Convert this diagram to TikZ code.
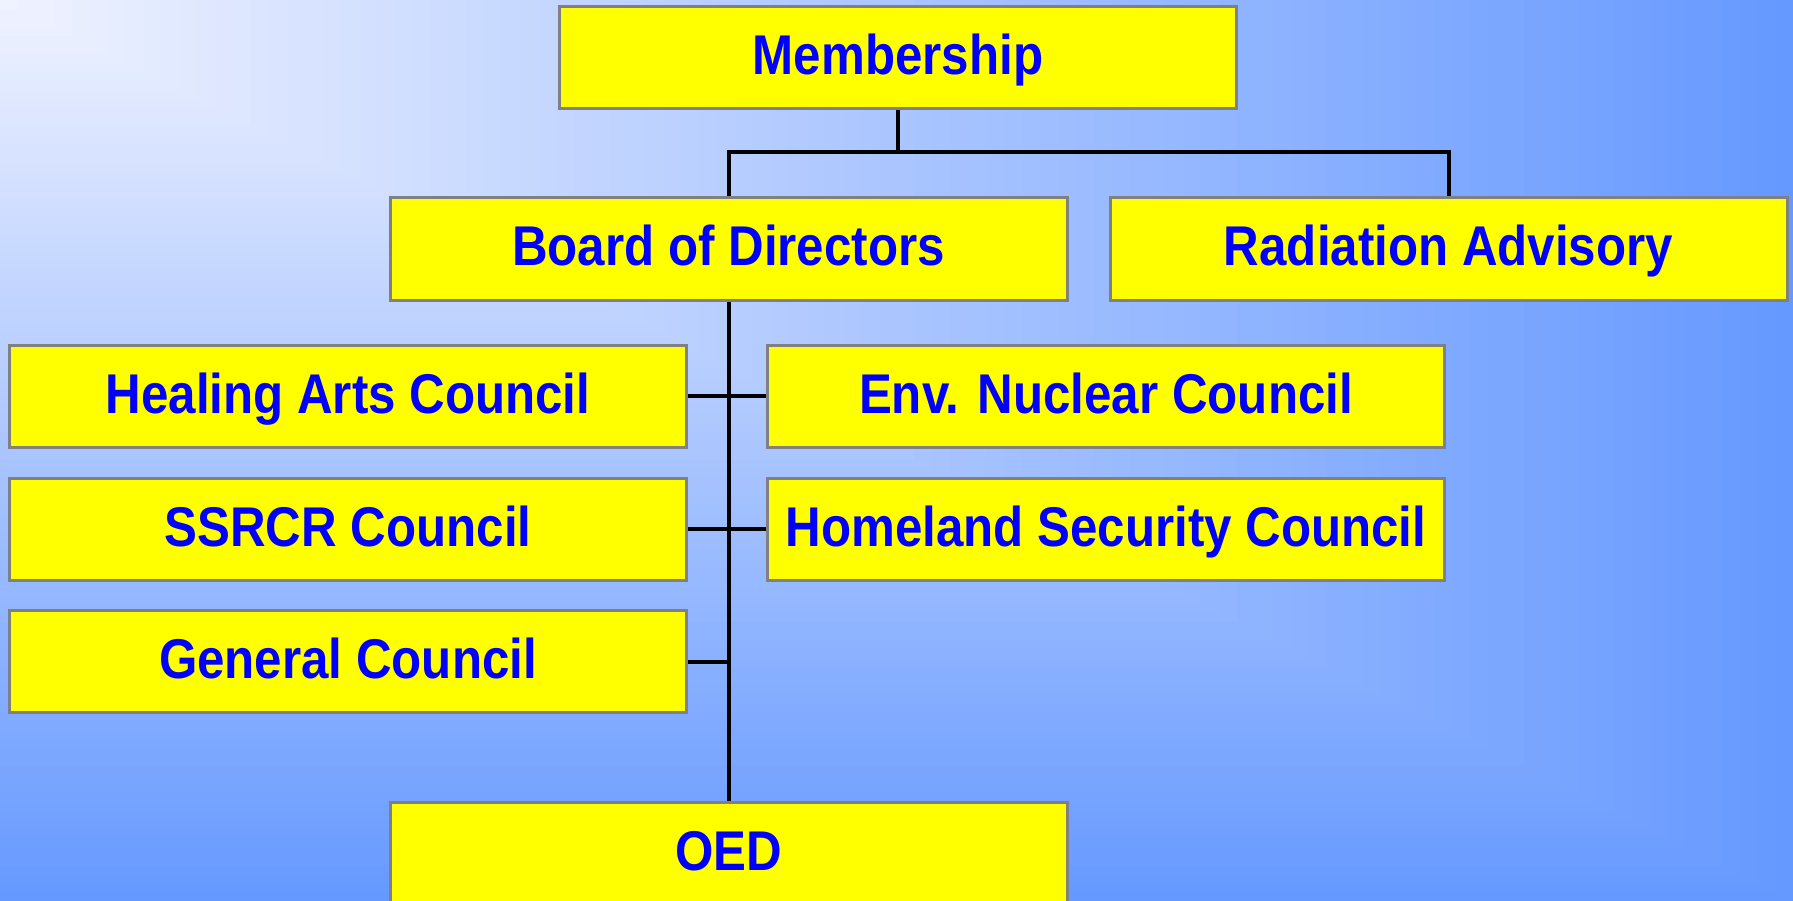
\documentclass[tikz,border=0pt]{standalone}
\usepackage{fontspec}
\newfontfamily\labfont{Liberation Sans}[FakeStretch=0.88]
\definecolor{bglight}{RGB}{240,243,255}
\definecolor{bgdark}{RGB}{102,153,255}
\definecolor{boxfill}{RGB}{255,255,0}
\definecolor{boxedge}{RGB}{128,128,128}
\definecolor{txtblue}{RGB}{0,0,255}
\tikzset{
  orgbox/.style={draw=boxedge, line width=3pt, fill=boxfill, rectangle,
    minimum width=677pt, minimum height=102pt, inner sep=0pt, outer sep=1.5pt,
    text=txtblue, font=\labfont\bfseries\fontsize{56}{60}\selectfont,
    text height=40pt, text depth=6pt},
  link/.style={draw=black, line width=4pt}
}
\begin{document}
\begin{tikzpicture}[x=1pt,y=-1pt]
\clip (0,0) rectangle (1793,901);
\foreach \i in {100,99,...,1} {
  \fill[bgdark!\i!bglight] (0,0) rectangle ({17.93*\i},{9.01*\i});
}
\node[orgbox] (mem) at (898,58) {Membership};
\node[orgbox] (bod) at (728.5,249) {Board of Directors};
\node[orgbox] (rad) at (1448.5,249) {Radiation Advisory};
\node[orgbox] (hac) at (348,396) {Healing Arts Council};
\node[orgbox] (env) at (1106,396) {Env. Nuclear Council};
\node[orgbox] (ssr) at (348,529) {SSRCR Council};
\node[orgbox] (hom) at (1106,529) {Homeland Security Council};
\node[orgbox] (gen) at (348,661.5) {General Council};
\node[orgbox] (oed) at (728.5,853) {OED};
\coordinate (bus) at (898,152);
\draw[link] (mem.south) -- (bus);
\draw[link] (bod.north) |- (bus) -| (rad.north);
\draw[link] (bod.south) -- (oed.north);
\draw[link] (hac.east) -- (env.west);
\draw[link] (ssr.east) -- (hom.west);
\draw[link] (gen.east) -- (gen.east -| bod.south);
\end{tikzpicture}
\end{document}
